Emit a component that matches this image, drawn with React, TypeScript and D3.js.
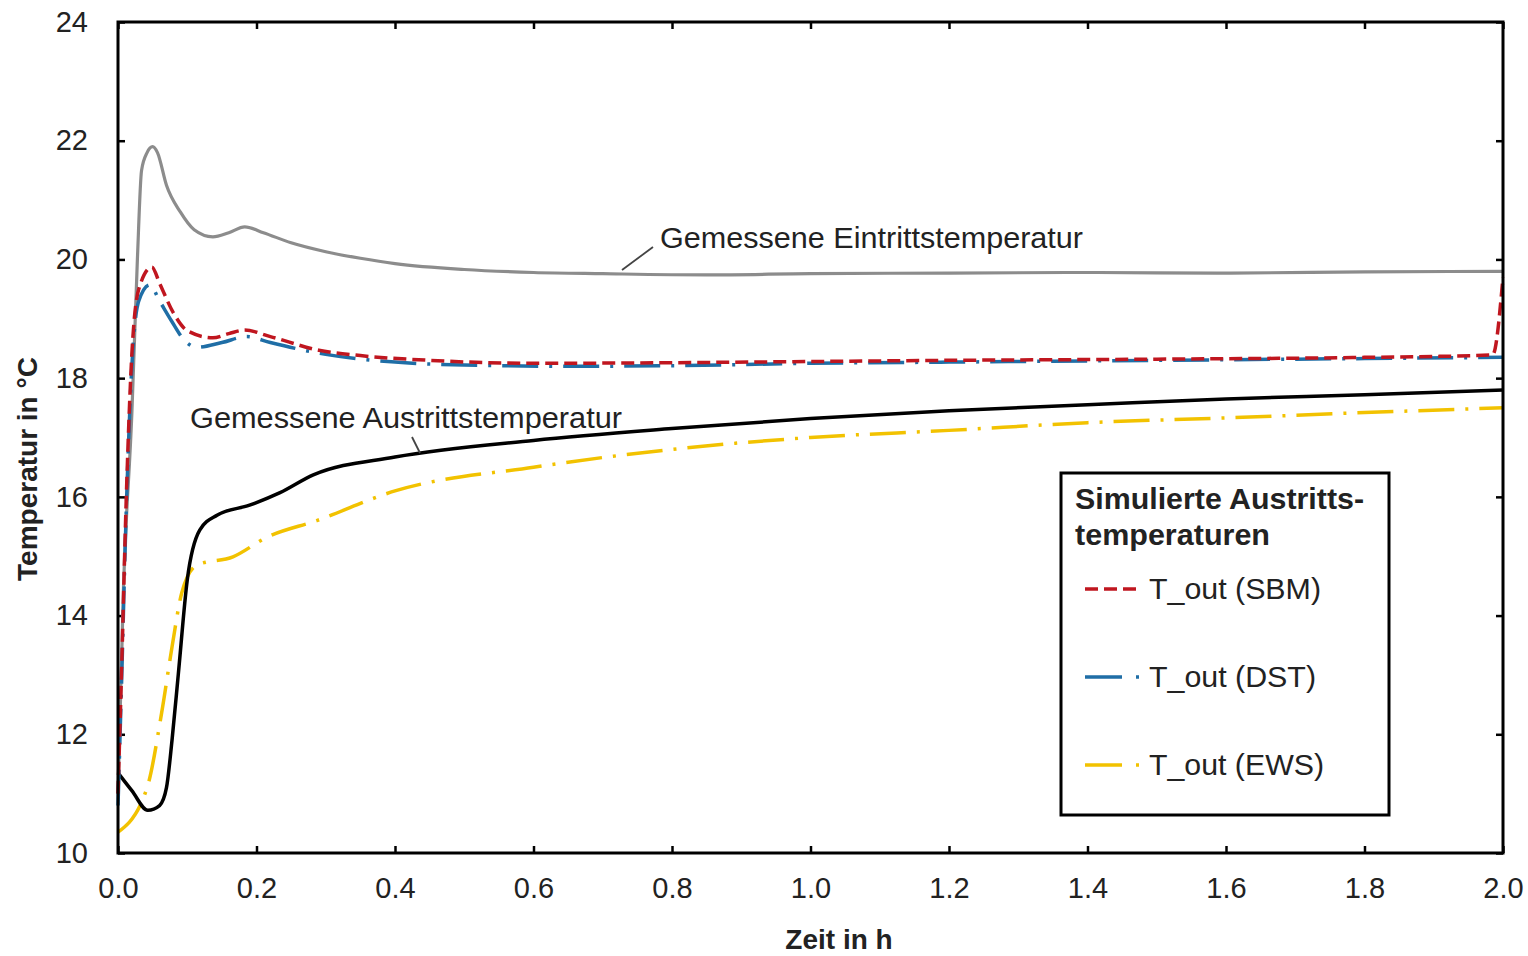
import { useRef, useEffect } from 'react';
import * as d3 from 'd3';

// Zeit in h / Temperatur in °C
const xTicks = [0, 0.2, 0.4, 0.6, 0.8, 1.0, 1.2, 1.4, 1.6, 1.8, 2.0];
const yTicks = [10, 12, 14, 16, 18, 20, 22, 24];

const inletMeasured = [
  [0, 11.0], [0.008, 14.5], [0.02, 17.4], [0.028, 20.0], [0.034, 21.5], [0.042, 21.8],
  [0.05, 21.9], [0.057, 21.8], [0.07, 21.25], [0.09, 20.8], [0.11, 20.5], [0.137, 20.38],
  [0.16, 20.45], [0.183, 20.55], [0.21, 20.45], [0.25, 20.28], [0.3, 20.13], [0.35, 20.02],
  [0.4, 19.93], [0.5, 19.83], [0.6, 19.78], [0.7, 19.76], [0.85, 19.74], [1.0, 19.76],
  [1.2, 19.77], [1.4, 19.78], [1.6, 19.77], [1.8, 19.79], [2.0, 19.8],
];

const outletMeasured = [
  [0, 11.35], [0.02, 11.05], [0.043, 10.72], [0.06, 10.8], [0.07, 11.1], [0.078, 11.9],
  [0.087, 13.0], [0.1, 14.6], [0.118, 15.44], [0.143, 15.69], [0.19, 15.86], [0.234, 16.07],
  [0.282, 16.37], [0.4, 16.67], [0.6, 16.95], [0.8, 17.15], [1.0, 17.32], [1.2, 17.45],
  [1.4, 17.55], [1.6, 17.65], [1.8, 17.72], [2.0, 17.8],
];

const sbm = [
  [0, 11.0], [0.005, 13.0], [0.012, 16.0], [0.02, 18.4], [0.03, 19.5], [0.049, 19.87],
  [0.06, 19.6], [0.08, 19.1], [0.1, 18.8], [0.137, 18.68], [0.16, 18.75], [0.183, 18.81],
  [0.22, 18.7], [0.29, 18.47], [0.35, 18.38], [0.45, 18.3], [0.6, 18.25], [0.8, 18.26],
  [1.0, 18.28], [1.2, 18.3], [1.5, 18.32], [1.8, 18.35], [1.985, 18.39], [2.0, 19.7],
];

const dst = [
  [0, 10.8], [0.005, 12.8], [0.012, 15.8], [0.02, 18.2], [0.03, 19.3], [0.046, 19.57],
  [0.06, 19.3], [0.078, 18.95], [0.095, 18.65], [0.114, 18.52], [0.15, 18.6], [0.186, 18.7],
  [0.22, 18.6], [0.3, 18.4], [0.4, 18.27], [0.5, 18.22], [0.66, 18.2], [0.8, 18.21],
  [1.0, 18.25], [1.2, 18.27], [1.5, 18.3], [1.8, 18.33], [2.0, 18.35],
];

const ews = [
  [0, 10.35], [0.042, 11.1], [0.063, 12.36], [0.078, 13.47], [0.092, 14.38], [0.114, 14.85],
  [0.166, 14.99], [0.215, 15.32], [0.287, 15.6], [0.4, 16.1], [0.6, 16.5], [0.8, 16.8],
  [1.0, 17.0], [1.2, 17.12], [1.4, 17.25], [1.6, 17.33], [1.8, 17.42], [2.0, 17.5],
];

const legendTitle = ['Simulierte Austritts-', 'temperaturen'];
const legendItems = [
  { label: 'T_out (SBM)', color: '#c0161f', dash: '13,6' },
  { label: 'T_out (DST)', color: '#1f6ea6', dash: '36,11,3,11' },
  { label: 'T_out (EWS)', color: '#f2c200', dash: '36,11,3,11' },
];

const FONT = '"Liberation Sans", Arial, sans-serif';

export default function App() {
  const ref = useRef(null);

  useEffect(() => {
    const svg = d3.select(ref.current);
    svg.selectAll('*').remove();

    const left = 118, right = 1503, top = 22, bottom = 853;
    const x = d3.scaleLinear().domain([0, 2]).range([left, right]);
    const y = d3.scaleLinear().domain([10, 24]).range([bottom, top]);

    const line = d3.line().x((d) => x(d[0])).y((d) => y(d[1])).curve(d3.curveMonotoneX);

    // widen text a little, the source font runs wider than Liberation
    const wide = (sel, len) => sel.attr('textLength', len).attr('lengthAdjust', 'spacingAndGlyphs');

    const styleAxis = (g) => {
      g.selectAll('text')
        .attr('font-family', FONT)
        .attr('font-size', 29)
        .attr('fill', '#222');
    };

    svg.append('g')
      .attr('transform', `translate(0,${bottom})`)
      .call(d3.axisBottom(x).tickValues(xTicks).tickFormat(d3.format('.1f')).tickSizeInner(-7).tickSizeOuter(0).tickPadding(24))
      .call(styleAxis);
    svg.append('g')
      .attr('transform', `translate(0,${top})`)
      .call(d3.axisTop(x).tickValues(xTicks).tickFormat(() => '').tickSizeInner(-7).tickSizeOuter(0));
    svg.append('g')
      .attr('transform', `translate(${left},0)`)
      .call(d3.axisLeft(y).tickValues(yTicks).tickFormat(d3.format('d')).tickSizeInner(-7).tickSizeOuter(0).tickPadding(30))
      .call(styleAxis);
    svg.append('g')
      .attr('transform', `translate(${right},0)`)
      .call(d3.axisRight(y).tickValues(yTicks).tickFormat(() => '').tickSizeInner(-7).tickSizeOuter(0));
    svg.selectAll('g').selectAll('.domain').remove();
    svg.selectAll('g').selectAll('line').attr('stroke', '#000').attr('stroke-width', 2.5);

    // series
    const plot = svg.append('g');
    plot.append('path').datum(inletMeasured).attr('d', line)
      .attr('fill', 'none').attr('stroke', '#8c8c8c').attr('stroke-width', 3.2);
    plot.append('path').datum(ews).attr('d', line)
      .attr('fill', 'none').attr('stroke', legendItems[2].color).attr('stroke-width', 3.5)
      .attr('stroke-dasharray', legendItems[2].dash);
    plot.append('path').datum(outletMeasured).attr('d', line)
      .attr('fill', 'none').attr('stroke', '#000').attr('stroke-width', 3.5);
    plot.append('path').datum(dst).attr('d', line)
      .attr('fill', 'none').attr('stroke', legendItems[1].color).attr('stroke-width', 3.5)
      .attr('stroke-dasharray', legendItems[1].dash);
    plot.append('path').datum(sbm).attr('d', line)
      .attr('fill', 'none').attr('stroke', legendItems[0].color).attr('stroke-width', 3.5)
      .attr('stroke-dasharray', legendItems[0].dash);

    // frame
    svg.append('rect')
      .attr('x', left).attr('y', top)
      .attr('width', right - left).attr('height', bottom - top)
      .attr('fill', 'none').attr('stroke', '#000').attr('stroke-width', 3);

    // annotations
    svg.append('line')
      .attr('x1', 622).attr('y1', 270).attr('x2', 653).attr('y2', 247)
      .attr('stroke', '#444').attr('stroke-width', 1.8);
    svg.append('text')
      .attr('x', 660).attr('y', 248)
      .attr('font-family', FONT).attr('font-size', 29).attr('fill', '#222')
      .text('Gemessene Eintrittstemperatur')
      .call(wide, 423);
    svg.append('line')
      .attr('x1', 412).attr('y1', 437).attr('x2', 420).attr('y2', 453)
      .attr('stroke', '#444').attr('stroke-width', 1.8);
    svg.append('text')
      .attr('x', 190).attr('y', 428)
      .attr('font-family', FONT).attr('font-size', 29).attr('fill', '#222')
      .text('Gemessene Austrittstemperatur')
      .call(wide, 432);

    // legend
    const lg = svg.append('g');
    lg.append('rect')
      .attr('x', 1061).attr('y', 473).attr('width', 328).attr('height', 342)
      .attr('fill', '#fff').attr('stroke', '#000').attr('stroke-width', 3);
    const titleLens = [289, 195];
    legendTitle.forEach((t, i) => {
      lg.append('text')
        .attr('x', 1075).attr('y', 509 + i * 36)
        .attr('font-family', FONT).attr('font-size', 29).attr('font-weight', 'bold').attr('fill', '#222')
        .text(t)
        .call(wide, titleLens[i]);
    });
    const itemLens = [172, 167, 175];
    legendItems.forEach((it, i) => {
      const yy = 589 + i * 88;
      lg.append('line')
        .attr('x1', 1085).attr('x2', 1142).attr('y1', yy).attr('y2', yy)
        .attr('stroke', it.color).attr('stroke-width', 3.5)
        .attr('stroke-dasharray', i === 0 ? '13,6' : '37,14,3,20');
      lg.append('text')
        .attr('x', 1149).attr('y', yy + 10)
        .attr('font-family', FONT).attr('font-size', 29).attr('fill', '#222')
        .text(it.label)
        .call(wide, itemLens[i]);
    });

    // axis titles
    svg.append('text')
      .attr('x', 839).attr('y', 949)
      .attr('text-anchor', 'middle')
      .attr('font-family', FONT).attr('font-size', 28).attr('font-weight', 'bold').attr('fill', '#222')
      .text('Zeit in h');
    svg.append('text')
      .attr('transform', `translate(37,469) rotate(-90)`)
      .attr('text-anchor', 'middle')
      .attr('font-family', FONT).attr('font-size', 28).attr('font-weight', 'bold').attr('fill', '#222')
      .text('Temperatur in °C');
  }, []);

  return (
    <svg
      ref={ref}
      width={1528}
      height={956}
      style={{ position: 'absolute', left: 0, top: 0, background: '#fff' }}
    />
  );
}
